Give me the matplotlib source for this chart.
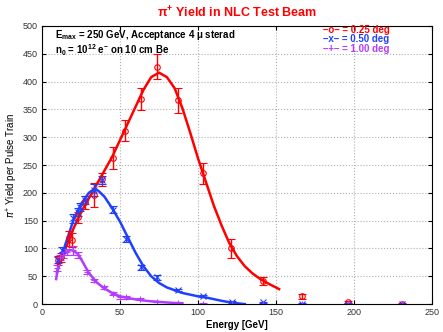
import numpy as np
import matplotlib
matplotlib.use("Agg")
import matplotlib.pyplot as plt

plt.rcParams['font.family'] = ['Liberation Sans', 'DejaVu Sans']
plt.rcParams['mathtext.fontset'] = 'custom'
plt.rcParams['mathtext.rm'] = 'Liberation Sans'
plt.rcParams['mathtext.bf'] = 'Liberation Sans:bold'

# measured points (energy GeV, yield, error)
e_025 = [10.3, 12, 17, 19, 23, 27.5, 33, 38.5, 45.5, 53, 63.5, 74, 87, 103, 121, 141.7, 166.7, 196, 231]
y_025 = [79, 84, 118, 115, 156, 183, 196, 224, 262, 312, 368, 427, 366, 235, 100, 41, 14, 4, 1]
err_025 = [8, 8, 13, 12, 10, 12, 22, 12, 20, 18, 20, 22, 23, 19, 17, 7, 4, 2, 1]

e_050 = [10.3, 13, 20, 23, 24.4, 27.5, 33, 38.5, 45.5, 54, 63.5, 74, 87, 103, 122, 141.7, 166.7, 196, 231]
y_050 = [79, 97, 154, 165, 174, 187, 205, 223, 170, 117, 66, 48, 25, 14, 4, 3, 1, 1, 0.5]
err_050 = [6, 6, 8, 7, 7, 7, 10, 7, 7, 6, 5, 4, 2, 2, 1.5, 1.5, 1, 1, 0.5]

e_100 = [9.6, 11.5, 13.5, 16, 20, 23, 29, 33, 40, 45.5, 50, 54, 63, 74, 87, 103, 122, 141.7, 166.7, 196, 231]
y_100 = [65, 84, 88, 94, 97, 88, 58, 43, 30, 19, 12, 12, 9, 4, 2, 1, 0.5, 0.5, 0.3, 0.3, 0.3]
err_100 = [5, 5, 5, 5, 8, 5, 4, 3, 3, 2, 2, 2, 1.5, 1, 1, 0.5, 0.5, 0.5, 0.3, 0.3, 0.3]

# fitted curves
fx_025 = [10, 15, 20, 25, 30, 35, 40, 45, 50, 55, 60, 65, 70, 75, 80, 85, 90, 95, 100, 105, 110, 115, 120, 125, 130, 135, 140, 145, 152]
fy_025 = [70, 100, 135, 165, 190, 215, 240, 265, 295, 325, 355, 385, 408, 416, 408, 388, 352, 308, 262, 220, 178, 142, 110, 86, 68, 55, 45, 37, 27]

fx_050 = [9.6, 12, 15, 20, 25, 30, 33, 36, 40, 45, 50, 55, 60, 65, 70, 75, 80, 85, 90, 95, 100, 105, 110, 115, 120, 125, 130]
fy_050 = [57, 80, 108, 150, 180, 200, 206, 204, 193, 172, 148, 120, 92, 68, 50, 38, 30, 25, 20, 17, 14, 12, 9, 6, 3.5, 1.5, 0]

fx_100 = [9, 10, 12, 15, 18, 20, 23, 26, 30, 35, 40, 45, 50, 55, 60, 65, 70, 75, 80, 85, 90]
fy_100 = [45, 62, 80, 93, 97, 96, 90, 76, 56, 39, 28, 20, 14, 11, 8.5, 6.5, 5, 4, 3, 2, 1.5]

red = '#ff0000'
blue = '#2040ff'
purple = '#b43cff'

fig = plt.figure(figsize=(4.43, 3.32), dpi=100)
ax = fig.add_axes([0.095, 0.084, 0.88, 0.838])

ax.plot(fx_025, fy_025, color=red, lw=1.8)
ax.plot(fx_050, fy_050, color=blue, lw=1.8)
ax.plot(fx_100, fy_100, color=purple, lw=1.8)

ax.errorbar(e_025, y_025, yerr=err_025, fmt='o', ms=4, mfc='none', mec=red, ecolor=red,
            elinewidth=1, capsize=3, mew=0.8)
ax.errorbar(e_050, y_050, yerr=err_050, fmt='x', ms=4, mec=blue, ecolor=blue,
            elinewidth=1, capsize=3, mew=0.8)
ax.errorbar(e_100, y_100, yerr=err_100, fmt='+', ms=5, mec=purple, ecolor=purple,
            elinewidth=1, capsize=3, mew=0.8)

ax.set_xlim(0, 250)
ax.set_ylim(0, 500)
ax.set_xticks(np.arange(0, 251, 50))
ax.set_yticks(np.arange(0, 501, 50))
ax.tick_params(direction='in', top=True, right=True, labelsize=6.5, length=3,
               labelcolor='#333333', pad=3)
ax.grid(True, linestyle=':', color='#b0b0b0', lw=0.8)
for s in ax.spines.values():
    s.set_linewidth(0.8)

ax.set_xlabel('Energy [GeV]', fontsize=7, fontweight='bold', labelpad=2)
ax.set_ylabel(r'$\pi^{\mathrm{+}}$ Yield per Pulse Train', fontsize=7, labelpad=2)
ax.set_title(r'$\mathbf{\pi^{+}}$ Yield in NLC Test Beam', color=red, fontsize=9,
             fontweight='bold', pad=6)

ax.text(8.3, 483, r'E$_{\mathbf{max}}$ = 250 GeV, Acceptance 4 μ sterad', fontsize=7,
        fontweight='bold', va='center')
ax.text(8.3, 456, r'n$_{\mathbf{0}}$ = 10$^{\mathbf{12}}$ e$^{\mathbf{-}}$ on 10 cm Be', fontsize=7,
        fontweight='bold', va='center')

ax.text(180, 492, '\u2013o\u2013 = 0.25 deg', color=red, fontsize=7, fontweight='bold', va='center')
ax.text(180, 476, '\u2013x\u2013 = 0.50 deg', color=blue, fontsize=7, fontweight='bold', va='center')
ax.text(180, 459, '\u2013+\u2013 = 1.00 deg', color=purple, fontsize=7, fontweight='bold', va='center')

fig.savefig('out.png', dpi=100)
